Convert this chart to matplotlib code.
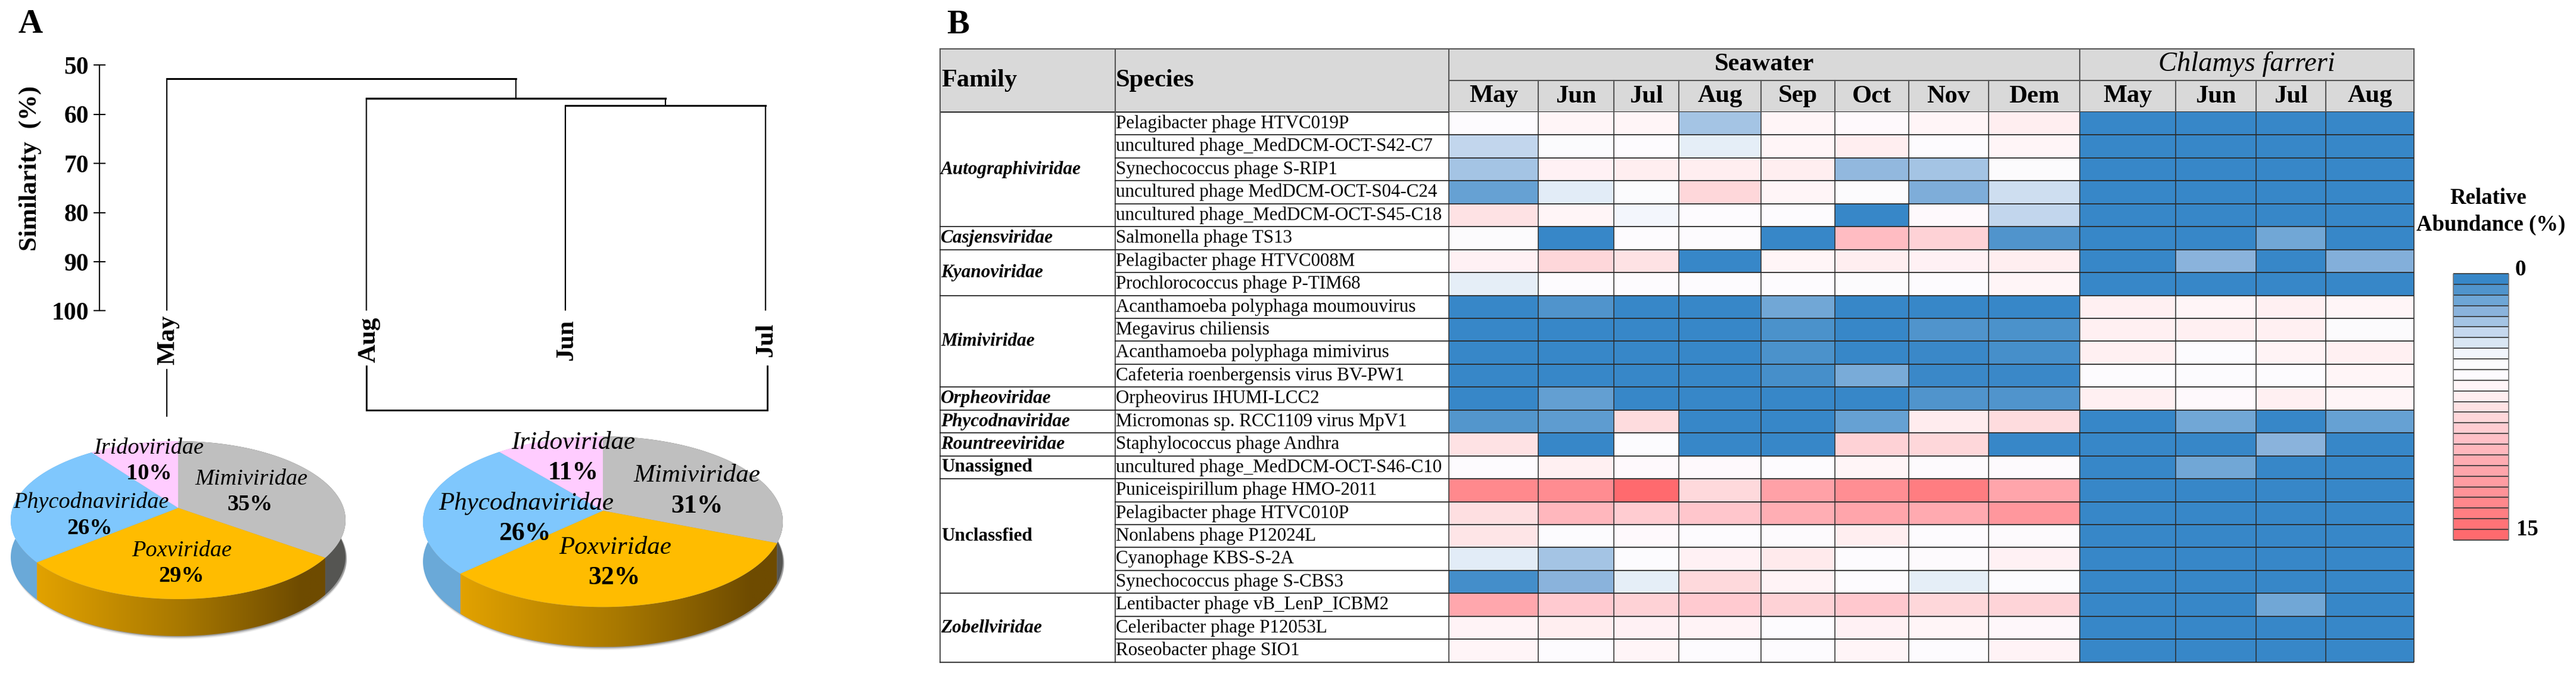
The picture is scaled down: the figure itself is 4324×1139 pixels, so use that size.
import numpy as np
import matplotlib
matplotlib.use('Agg')
import matplotlib.pyplot as plt
from matplotlib.colors import LinearSegmentedColormap
from matplotlib.patches import Polygon, Rectangle

plt.rcParams['font.family'] = ['Liberation Serif', 'DejaVu Serif']

W, H = 4324, 1139

# panel A data
leaves = ['May', 'Aug', 'Jun', 'Jul']
sim_ticks = [50, 60, 70, 80, 90, 100]
merge_jun_jul = 58.2
merge_aug = 56.7
merge_may = 52.8

pie_names = ['Mimiviridae', 'Poxviridae', 'Phycodnaviridae', 'Iridoviridae']
pie_left = [35, 29, 26, 10]
pie_right = [31, 32, 26, 11]

# panel B data
months_sea = ['May', 'Jun', 'Jul', 'Aug', 'Sep', 'Oct', 'Nov', 'Dem']
months_chl = ['May', 'Jun', 'Jul', 'Aug']
families = [('Autographiviridae', 5), ('Casjensviridae', 1), ('Kyanoviridae', 2),
            ('Mimiviridae', 4), ('Orpheoviridae', 1), ('Phycodnaviridae', 1),
            ('Rountreeviridae', 1), ('Unassigned', 1), ('Unclassfied', 5),
            ('Zobellviridae', 3)]
species = ['Pelagibacter phage HTVC019P', 'uncultured phage_MedDCM-OCT-S42-C7',
           'Synechococcus phage S-RIP1', 'uncultured phage MedDCM-OCT-S04-C24',
           'uncultured phage_MedDCM-OCT-S45-C18', 'Salmonella phage TS13',
           'Pelagibacter phage HTVC008M', 'Prochlorococcus phage P-TIM68',
           'Acanthamoeba polyphaga moumouvirus', 'Megavirus chiliensis',
           'Acanthamoeba polyphaga mimivirus', 'Cafeteria roenbergensis virus BV-PW1',
           'Orpheovirus IHUMI-LCC2', 'Micromonas sp. RCC1109 virus MpV1',
           'Staphylococcus phage Andhra', 'uncultured phage_MedDCM-OCT-S46-C10',
           'Puniceispirillum phage HMO-2011', 'Pelagibacter phage HTVC010P',
           'Nonlabens phage P12024L', 'Cyanophage KBS-S-2A', 'Synechococcus phage S-CBS3',
           'Lentibacter phage vB_LenP_ICBM2', 'Celeribacter phage P12053L',
           'Roseobacter phage SIO1']
seawater = [
    [5.6, 6.3, 6.3, 2.5, 6.3, 5.9, 6.3, 6.9],
    [3.1, 5.0, 5.6, 4.1, 6.3, 6.9, 5.6, 6.3],
    [2.5, 6.6, 6.9, 6.9, 6.9, 2.1, 2.5, 5.3],
    [1.1, 4.0, 5.0, 8.1, 6.3, 5.3, 1.6, 3.4],
    [7.5, 6.3, 4.4, 5.6, 5.6, 0.0, 5.9, 3.1],
    [5.3, 0.0, 5.6, 5.6, 0.0, 9.7, 8.4, 0.6],
    [6.6, 8.1, 7.5, 0.0, 6.3, 6.9, 6.6, 6.9],
    [4.1, 5.6, 5.6, 5.6, 5.6, 5.3, 5.6, 6.3],
    [0.0, 0.6, 0.0, 0.0, 1.3, 0.0, 0.0, 0.0],
    [0.0, 0.0, 0.0, 0.0, 0.5, 0.0, 0.6, 0.5],
    [0.0, 0.0, 0.0, 0.0, 0.5, 0.0, 0.1, 0.4],
    [0.0, 0.0, 0.0, 0.0, 0.4, 1.5, 0.1, 0.1],
    [0.0, 1.0, 0.0, 0.0, 0.0, 0.0, 0.6, 0.6],
    [0.7, 0.9, 7.9, 0.0, 0.0, 1.1, 7.0, 7.9],
    [7.5, 0.0, 5.4, 0.0, 0.0, 8.4, 8.1, 0.0],
    [5.6, 6.7, 5.9, 5.9, 5.6, 6.3, 5.8, 5.8],
    [13.1, 12.9, 15.0, 8.0, 11.6, 12.8, 13.8, 11.3],
    [7.7, 10.0, 8.8, 9.1, 10.5, 11.3, 10.8, 12.2],
    [7.4, 5.4, 5.9, 5.6, 5.8, 6.9, 5.6, 5.8],
    [4.0, 2.5, 5.4, 6.6, 7.1, 5.6, 5.8, 6.6],
    [0.3, 1.9, 4.1, 8.0, 6.4, 5.6, 4.1, 5.4],
    [11.1, 8.9, 8.4, 8.9, 8.4, 9.0, 8.1, 8.3],
    [6.4, 6.9, 6.6, 6.4, 5.6, 6.6, 6.3, 6.0],
    [6.3, 5.6, 6.3, 5.6, 5.6, 6.3, 5.6, 6.4],
]
chlamys = [
    [0, 0, 0, 0], [0, 0, 0, 0], [0, 0, 0, 0], [0, 0, 0, 0], [0, 0, 0, 0],
    [0, 0, 1.3, 0],
    [0, 1.9, 0, 1.7],
    [0, 0, 0, 0],
    [6.7, 6.3, 6.7, 6.3],
    [6.7, 6.7, 6.7, 5.3],
    [6.7, 5.4, 6.5, 6.7],
    [5.6, 5.4, 5.6, 6.3],
    [6.7, 5.9, 6.7, 6.3],
    [0, 1.3, 0, 1.1],
    [0, 0, 1.9, 0],
    [0, 1.3, 0, 0],
    [0, 0, 0, 0], [0, 0, 0, 0], [0, 0, 0, 0], [0, 0, 0, 0], [0, 0, 0, 0],
    [0, 0, 1.3, 0],
    [0, 0, 0, 0], [0, 0, 0, 0],
]

# 25 steps of the legend, top to bottom
legend_colors = ['#3787C8', '#5295CC', '#6FA6D6', '#8AB3DC', '#A5C5E4', '#C5D8EE', '#D8E6F3',
                 '#F2F6FC', '#FBFBFD', '#FDFBFE', '#FFF5F8', '#FFEEF0', '#FEE3E5', '#FED7DA',
                 '#FFCDD2', '#FFC1C8', '#FFB7BD', '#FFACB2', '#FFA6AC', '#FF9CA2', '#FF9499',
                 '#FF898D', '#FF7E82', '#FF7478', '#FF6A6E']
cmap = LinearSegmentedColormap.from_list('abundance', legend_colors)
side_cmap = LinearSegmentedColormap.from_list('pox_side', [(0, '#E2A200'), (0.5, '#A87800'),
                                                           (0.92, '#6E4B00'), (1, '#6E4B00')])
top_colors = ['#BFBFBF', '#FFBC00', '#7FC7FD', '#FFCCFF']
side_colors = ['#555552', None, '#6AA9D8', '#C9A0C9']


fig = plt.figure(figsize=(W / 100, H / 100), dpi=100)


def px_axes(x0, y0, x1, y1, **kw):
    return fig.add_axes([x0 / W, 1 - y1 / H, (x1 - x0) / W, (y1 - y0) / H], **kw)


over = px_axes(0, 0, W, H)
over.set_xlim(0, W)
over.set_ylim(H, 0)
over.axis('off')
over.autoscale(False)


def txt(x, y, s, size, ha='center', va='center', **kw):
    return over.text(x, y, s, fontsize=size, ha=ha, va=va, color='black', **kw)


txt(51, 41, 'A', 41, weight='bold')
txt(1608, 42, 'B', 41, weight='bold')
txt(51, 282, 'Similarity  (%)', 31, rotation=90, weight='bold')

# dendrogram
leaf_x = [280.3, 615, 949, 1285]
leaf_off = [2, 5, 2, 1]
dend = px_axes(167.4, 109.4, 1310, 521.4)
dend.set_xlim(167.4, 1310)
dend.set_ylim(100, 50)
dend.patch.set_visible(False)
for s in ['top', 'right', 'bottom']:
    dend.spines[s].set_visible(False)
dend.spines['left'].set_linewidth(1.5)
dend.set_xticks([])
dend.set_yticks(sim_ticks)
dend.set_yticklabels([str(t) for t in sim_ticks], fontsize=30, weight='bold')
dend.tick_params(axis='y', direction='inout', length=14, width=1.5, pad=6)

node_jj = (leaf_x[2] + leaf_x[3]) / 2
node_a = (leaf_x[1] + node_jj) / 2
lk = dict(color='black', lw=1.6, solid_capstyle='butt')
dend.plot([leaf_x[2], leaf_x[2]], [100, merge_jun_jul], **lk)
dend.plot([leaf_x[3], leaf_x[3]], [100, merge_jun_jul], **lk)
dend.plot([leaf_x[2], leaf_x[3]], [merge_jun_jul] * 2, color='black', lw=2.2)
dend.plot([node_jj, node_jj], [merge_jun_jul, merge_aug], **lk)
dend.plot([leaf_x[1], leaf_x[1]], [100, merge_aug], **lk)
dend.plot([leaf_x[1], node_jj], [merge_aug] * 2, color='black', lw=2.4)
dend.plot([node_a, node_a], [merge_aug, merge_may], **lk)
dend.plot([leaf_x[0], leaf_x[0]], [100, merge_may], **lk)
dend.plot([leaf_x[0], node_a], [merge_may] * 2, color='black', lw=2.2)

for x, off, name in zip(leaf_x, leaf_off, leaves):
    txt(x + off, 570, name, 31, rotation=90, weight='bold')

# connector lines under the leaf labels
over.plot([leaf_x[0]] * 2, [620, 698], color='black', lw=1.6)
over.plot([leaf_x[1], leaf_x[1], leaf_x[3] + 3, leaf_x[3] + 3], [614, 688, 688, 614],
          color='black', lw=2.0, solid_joinstyle='miter')


def pie3d(values, cx, cy, A, B, k, depth):
    # projected disc: far edge shrinks, so the hub sits above the ellipse centre
    def project(theta):
        u, v = np.sin(theta), np.cos(theta)
        w = 1 + k * v
        return cx + A * u / w, cy - B * v / w

    fr = np.cumsum([0] + list(values)) / sum(values) * 2 * np.pi
    all_t = np.linspace(0, 2 * np.pi, 400)
    xa, ya = project(all_t)
    for off, alpha in [(5, 0.12), (3, 0.2), (1.5, 0.3)]:
        over.add_patch(Polygon(np.c_[xa + 2, ya + depth + off], color='#404040', alpha=alpha,
                               lw=0, zorder=1))
    # side walls first, front wedges last
    order = sorted(range(len(values)), key=lambda i: project((fr[i] + fr[i + 1]) / 2)[1])
    for i in order:
        t = np.linspace(fr[i], fr[i + 1], 120)
        x, y = project(t)
        pts = np.r_[np.c_[x, y], np.c_[x[::-1], y[::-1] + depth]]
        if side_colors[i] is None:
            poly = Polygon(pts, color='none', lw=0, zorder=2)
            over.add_patch(poly)
            grad = over.imshow(np.linspace(0, 1, 256)[None, :], cmap=side_cmap, aspect='auto',
                               extent=[x.min(), x.max(), y.max() + depth, y.min()], zorder=2.1)
            grad.set_clip_path(poly)
        else:
            over.add_patch(Polygon(pts, color=side_colors[i], lw=0, zorder=2.2))
    for i in range(len(values)):
        t = np.linspace(fr[i], fr[i + 1], 120)
        x, y = project(t)
        pts = np.r_[[[cx, cy]], np.c_[x, y]]
        over.add_patch(Polygon(pts, color=top_colors[i], lw=0, zorder=3))


pie3d(pie_left, 299, 852, 277.6, 129.3, 0.1547, 62)
pie3d(pie_right, 1012, 856.7, 299.5, 140.7, 0.129, 67)

left_pos = [(422, 804), (305, 924), (153, 842), (250, 752)]
left_pct = [(420, 847), (305, 967), (151, 886), (250, 795)]
right_pos = [(1170, 798), (1033, 919), (883, 845), (962, 743)]
right_pct = [(1170, 849), (1031, 969), (881, 895), (962, 793)]
for name, val, p, q in zip(pie_names, pie_left, left_pos, left_pct):
    over.text(p[0], p[1], name, fontsize=27.5, style='italic', ha='center', va='center', zorder=5)
    over.text(q[0], q[1], f'{val}%', fontsize=27.5, weight='bold', ha='center', va='center', zorder=5)
for name, val, p, q in zip(pie_names, pie_right, right_pos, right_pct):
    over.text(p[0], p[1], name, fontsize=31, style='italic', ha='center', va='center', zorder=5)
    over.text(q[0], q[1], f'{val}%', fontsize=31.5, weight='bold', ha='center', va='center', zorder=5)

# table
tab_left, fam_right, sp_right = 1578, 1872, 2432
col_x = [2432, 2582, 2708.5, 2817.6, 2956, 3080, 3203.5, 3338, 3491, 3652, 3787, 3903.6, 4052]
y_top, y_mid, y_head, y_bot = 82, 135, 188, 1110.7
row_h = (y_bot - y_head) / len(species)
line_c = '#2a2a2a'
head_c = '#D9D9D9'

over.add_patch(Rectangle((tab_left, y_top), col_x[-1] - tab_left, y_head - y_top, color=head_c, lw=0))
hk = dict(color='#555555', lw=1.5, zorder=2)
over.plot([tab_left, col_x[-1]], [y_top, y_top], **hk)
over.plot([sp_right, col_x[-1]], [y_mid, y_mid], **hk)
over.plot([tab_left, col_x[-1]], [y_head, y_head], color=line_c, lw=1.5, zorder=2)
over.plot([tab_left, tab_left], [y_top, y_bot], **hk)
over.plot([fam_right, fam_right], [y_top, y_bot], **hk)
for i, x in enumerate(col_x):
    top = y_top if i in (0, 8, 12) else y_mid
    over.plot([x, x], [top, y_head], **hk)

txt(1580, 134.5, 'Family', 30.5, ha='left', weight='bold')
txt(1873, 134.5, 'Species', 30.5, ha='left', weight='bold')
txt((col_x[0] + col_x[8]) / 2, 108, 'Seawater', 30.5, weight='bold')
txt((col_x[8] + col_x[12]) / 2, 108, 'Chlamys farreri', 33.5, style='italic')
for i, m in enumerate(months_sea + months_chl):
    txt((col_x[i] + col_x[i + 1]) / 2, 161.5, m, 30.5, weight='bold')

heat = px_axes(col_x[0], y_head, col_x[-1], y_bot)
values = np.hstack([np.array(seawater), np.array(chlamys)])
heat.pcolormesh(col_x, np.arange(len(species) + 1), values, cmap=cmap, vmin=0, vmax=15)
heat.set_xlim(col_x[0], col_x[-1])
heat.set_ylim(len(species), 0)
heat.axis('off')
heat.hlines(np.arange(1, len(species) + 1), col_x[0], col_x[-1], color=line_c, lw=1.3, clip_on=False)
heat.vlines(col_x, 0, len(species), color=line_c, lw=1.1, clip_on=False)

row = 0
for name, n in families:
    yc = y_head + (row + n / 2) * row_h
    if name in ('Unassigned', 'Unclassfied'):
        txt(1580, yc, name, 22.5, ha='left', weight='bold')
    else:
        txt(1579, yc, name, 22.5, ha='left', weight='bold', style='italic')
    row += n
    ly = y_head + row * row_h
    over.plot([tab_left, fam_right], [ly, ly], color=line_c, lw=1.3)
for i, name in enumerate(species):
    txt(1873, y_head + (i + 0.5) * row_h, name, 22.3, ha='left')
    ly = y_head + (i + 1) * row_h
    over.plot([fam_right, sp_right], [ly, ly], color=line_c, lw=1.3)

# legend
txt(4177, 332, 'Relative', 26.5, weight='bold')
txt(4181, 377, 'Abundance (%)', 26.5, weight='bold')
txt(4231, 453, '0', 26.5, weight='bold')
txt(4242, 888, '15', 26.5, weight='bold')
leg = px_axes(4118, 459, 4211, 906)
levels = np.linspace(0, 15, len(legend_colors))
leg.pcolormesh([0, 1], np.arange(len(levels) + 1), levels[:, None], cmap=cmap, vmin=0, vmax=15)
leg.set_xlim(0, 1)
leg.set_ylim(len(levels), 0)
leg.axis('off')
leg.hlines(np.arange(len(levels) + 1), 0, 1, color='#333333', lw=1.2, clip_on=False)
leg.vlines([0, 1], 0, len(levels), color='#777777', lw=1.2, clip_on=False)

fig.savefig('out.png', dpi=100)
